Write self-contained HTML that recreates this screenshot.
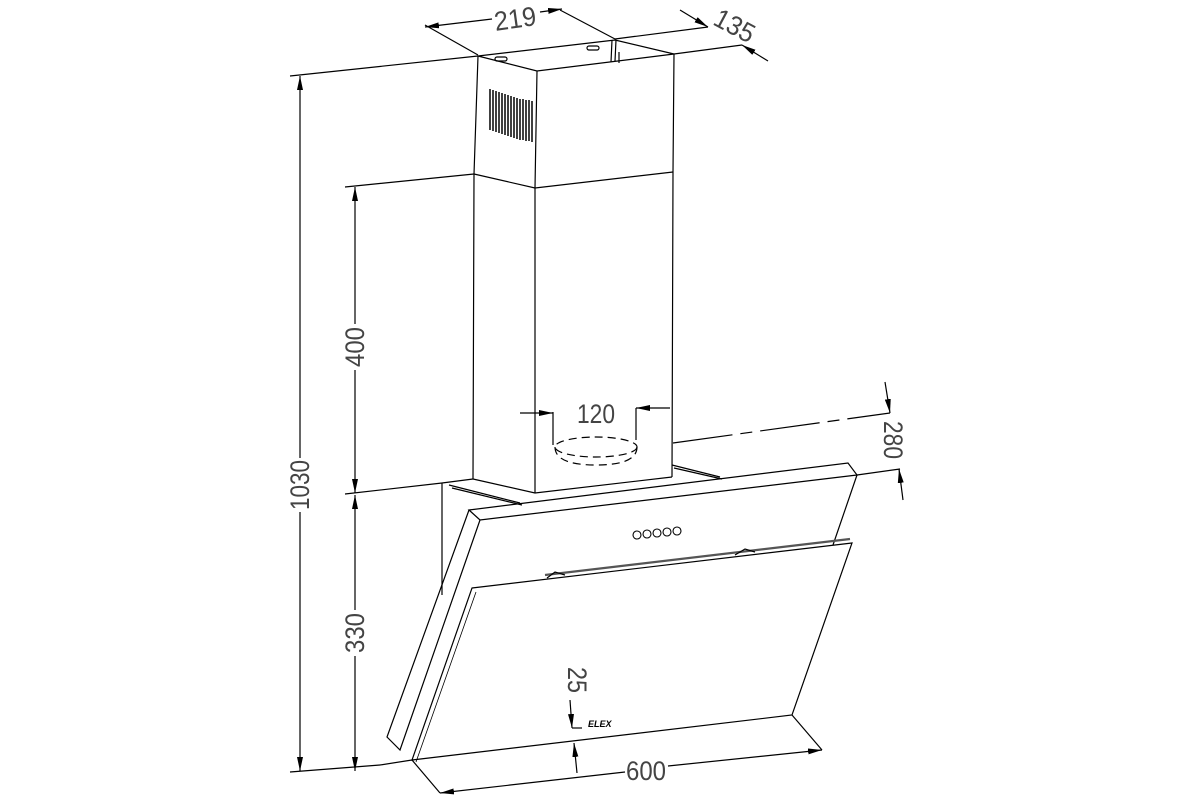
<!DOCTYPE html>
<html><head><meta charset="utf-8"><style>
html,body{margin:0;padding:0;background:#fff}
svg{display:block}
text{font-family:"Liberation Sans",sans-serif;fill:#444;font-size:27px}
</style></head><body>
<svg width="1200" height="800" viewBox="0 0 1200 800" xmlns="http://www.w3.org/2000/svg">
<defs>
<marker id="a" markerWidth="14" markerHeight="6" refX="14" refY="3" orient="auto" markerUnits="userSpaceOnUse">
<path d="M0,0 L14,3 L0,6 Z" fill="#000"/></marker>
</defs>
<g stroke="#000" stroke-width="1.2" fill="none">
<path d="M478,56 L537,71 L674,54 L615,40 Z"/>
<path d="M478,56 L474,174 M537,71 L535,188 M674,54 L673,172"/>
<path d="M474,174 L535,188 L673,172"/>
<rect x="587" y="46" width="12" height="4" rx="2"/>
<rect x="495" y="57" width="12" height="4" rx="2"/>
<path d="M612,40 L611,62 M616,40 L615,61 M619,52 L619,63"/>
<g stroke-width="1.5">
<path d="M490,89 L490,130 M493,90 L493,131 M496,91 L496,132 M499,92 L499,133 M502,93 L502,134 M505,94 L505,135 M508,95 L508,136 M511,96 L511,137 M514,97 L514,138 M517,98 L517,139 M520,99 L520,140 M523,99 L523,140 M526,100 L526,141 M529,100 L529,141 M532,101 L532,142"/>
</g>
<path d="M474,174 L473,479 M535,188 L535,493 M673,172 L672,477"/>
<path d="M473,479 L535,493 L672,477"/>
<path d="M442,483 L473,479 M442,483 L442,595"/>
<path d="M449,485 L520,503 M452,488 L522,505"/>
<path d="M672,465 L720,477 M674,468 L722,479"/>
<path d="M469,510 L848,463 L857,475 L480,520 Z"/>
<path d="M469,510 L387,737 L400,750 L480,520"/>
<path d="M857,475 L833,545"/>
<g stroke-width="1.1">
<circle cx="637" cy="535" r="4"/><circle cx="647" cy="534" r="4"/><circle cx="657" cy="533" r="4"/><circle cx="667" cy="532" r="4"/><circle cx="677" cy="531" r="4"/>
</g>
<path d="M472,588 L852,543 L792,715 L412,760 Z"/>
<path d="M476,592 L416,762" stroke-width="0.8"/>
<path d="M545,575 L850,539" stroke-width="2.2" stroke="#555"/>
<path d="M547,578 L555,572 L565,575 M735,555 L745,549 L755,552"/>
<path d="M412,760 L440,793 M792,715 L822,750"/>
<path d="M625,772 L440,793" marker-end="url(#a)"/>
<path d="M668,766 L822,750" marker-end="url(#a)"/>
<path d="M380,765 L412,760"/>
<path d="M570,700 L572,728" marker-end="url(#a)"/>
<path d="M572,728 L582,728"/>
<path d="M577,773 L574,743" marker-end="url(#a)"/>
<path d="M290,76 L478,56 M290,772 L380,765"/>
<path d="M300,458 L300,76" marker-end="url(#a)"/>
<path d="M300,512 L300,771" marker-end="url(#a)"/>
<path d="M345,187 L474,174 M345,494 L442,483"/>
<path d="M355,324 L355,187" marker-end="url(#a)"/>
<path d="M355,370 L355,493" marker-end="url(#a)"/>
<path d="M355,610 L355,495" marker-end="url(#a)"/>
<path d="M355,656 L355,771" marker-end="url(#a)"/>
<path d="M553,412 L553,445 M636,408 L636,440"/>
<path d="M520,413 L553,413" marker-end="url(#a)"/>
<path d="M670,408 L636,408" marker-end="url(#a)"/>
<g stroke-dasharray="8,5">
<ellipse cx="596" cy="447" rx="41" ry="10"/>
<path d="M555,447 Q555,465 596,465 Q637,465 637,447"/>
</g>
<path d="M673,443 L890,413" stroke-dasharray="60,8,12,8"/>
<path d="M885,382 L890,413" marker-end="url(#a)"/>
<path d="M857,475 L900,469"/>
<path d="M903,500 L899,469" marker-end="url(#a)"/>
<path d="M425,25 L478,55 M560,10 L615,39"/>
<path d="M492,19 L425,27" marker-end="url(#a)"/>
<path d="M540,12 L562,9" marker-end="url(#a)"/>
<path d="M615,39 L708,27 M674,54 L742,45"/>
<path d="M680,10 L708,27" marker-end="url(#a)"/>
<path d="M768,61 L742,45" marker-end="url(#a)"/>
</g>
<text x="515" y="28" text-anchor="middle" textLength="42" lengthAdjust="spacingAndGlyphs" transform="rotate(-8 515 18)">219</text>
<text x="735" y="35" text-anchor="middle" textLength="42" lengthAdjust="spacingAndGlyphs" transform="rotate(28 735 25)">135</text>
<text x="596" y="423" text-anchor="middle" textLength="38" lengthAdjust="spacingAndGlyphs">120</text>
<text transform="translate(884,440) rotate(90)" text-anchor="middle" textLength="38" lengthAdjust="spacingAndGlyphs">280</text>
<text transform="translate(309,485) rotate(-90)" text-anchor="middle" textLength="50" lengthAdjust="spacingAndGlyphs">1030</text>
<text transform="translate(364,347) rotate(-90)" text-anchor="middle" textLength="40" lengthAdjust="spacingAndGlyphs">400</text>
<text transform="translate(364,633) rotate(-90)" text-anchor="middle" textLength="40" lengthAdjust="spacingAndGlyphs">330</text>
<text transform="translate(568,680) rotate(90)" text-anchor="middle" textLength="26" lengthAdjust="spacingAndGlyphs">25</text>
<text x="646" y="780" text-anchor="middle" textLength="40" lengthAdjust="spacingAndGlyphs">600</text>
<text x="588" y="727" style="font-size:9px;font-weight:bold;font-style:italic;fill:#000">ELEX</text>
</svg>
</body></html>
